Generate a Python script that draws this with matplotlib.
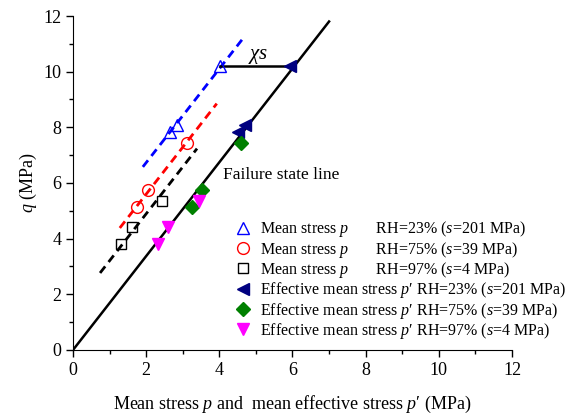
import numpy as np
import matplotlib
matplotlib.use('Agg')
import matplotlib.pyplot as plt
from matplotlib.lines import Line2D

plt.rcParams['font.family'] = ['Liberation Serif', 'DejaVu Serif']
plt.rcParams['mathtext.fontset'] = 'custom'
plt.rcParams['mathtext.rm'] = 'Liberation Serif'
plt.rcParams['mathtext.it'] = 'Liberation Serif:italic'

# mean stress p (open markers) and effective mean stress p' (filled markers)
p_rh23 = [2.65, 2.84, 4.02]
q_rh23 = [7.83, 8.08, 10.2]
pe_rh23 = [4.50, 4.70, 5.93]

p_rh75 = [1.75, 2.05, 3.11]
q_rh75 = [5.14, 5.75, 7.44]
pe_rh75 = [3.25, 3.52, 4.60]

p_rh97 = [1.31, 1.61, 2.43]
q_rh97 = [3.81, 4.42, 5.35]
pe_rh97 = [2.32, 2.60, 3.44]

# failure state line q = M p'
M = 1.686
fsl_p = [0.0, 7.0]

# dashed trend lines through p points (x range)
trend_23 = [1.91, 4.62]
trend_75 = [1.28, 3.93]
trend_97 = [0.74, 3.39]

fig = plt.figure(figsize=(5.82, 4.2), dpi=100)
ax = fig.add_axes([0.1254, 0.1667, 0.7543, 0.7952])

# failure line
ax.plot(fsl_p, [M * x for x in fsl_p], color='black', lw=1.8, zorder=2)

# dashed trend lines (slope from fit of each group)
for xs, ps, qs, c in [(trend_23, p_rh23, q_rh23, 'blue'),
                      (trend_75, p_rh75, q_rh75, 'red'),
                      (trend_97, p_rh97, q_rh97, 'black')]:
    b = np.mean(qs) - M * np.mean(ps)
    ax.plot(xs, [M * x + b for x in xs], ls=(0, (3, 2)), color=c, lw=2, zorder=2)

ms = 8.5
ax.plot(p_rh23, q_rh23, '^', mfc='none', mec='blue', ms=ms, mew=1, zorder=3)
ax.plot(p_rh75, q_rh75, 'o', mfc='none', mec='red', ms=ms, mew=1, zorder=3)
ax.plot(p_rh97, q_rh97, 's', mfc='none', mec='black', ms=7.5, mew=1, zorder=3)
ax.plot(pe_rh23, q_rh23, '<', color='#000080', ms=ms, zorder=3)
ax.plot(pe_rh75, q_rh75, 'D', color='#008000', ms=7, zorder=3)
ax.plot(pe_rh97, q_rh97, 'v', color='#FF00FF', ms=ms, zorder=3)

# chi*s line between p and p' at highest point
ax.plot([p_rh23[2], pe_rh23[2]], [q_rh23[2], q_rh23[2]], color='black', lw=1.8, zorder=2)
ax.text(5.05, 10.55, r'$\chi s$', fontsize=15, ha='center', va='center')
ax.text(4.1, 6.29, 'Failure state line', fontsize=12.5, ha='left', va='center')

ax.set_xlim(0, 12)
ax.set_ylim(0, 12)
ax.set_xticks(np.arange(0, 13, 2))
ax.set_yticks(np.arange(0, 13, 2))
ax.set_xticks(np.arange(0, 13, 1), minor=True)
ax.set_yticks(np.arange(0, 13, 1), minor=True)
ax.tick_params(which='major', direction='out', length=5, width=1, labelsize=13)
ax.tick_params(which='minor', direction='out', length=3, width=1)
ax.spines['top'].set_visible(False)
ax.spines['right'].set_visible(False)
ax.set_xlabel('Mean stress $p$ and  mean effective stress $p$\u2032 (MPa)', fontsize=13, labelpad=11)
ax.set_ylabel('$q$ (MPa)', fontsize=13, labelpad=3)

handles = [
    Line2D([], [], ls='none', marker='^', mfc='none', mec='blue', ms=ms),
    Line2D([], [], ls='none', marker='o', mfc='none', mec='red', ms=ms),
    Line2D([], [], ls='none', marker='s', mfc='none', mec='black', ms=7.5),
    Line2D([], [], ls='none', marker='<', color='#000080', ms=ms),
    Line2D([], [], ls='none', marker='D', color='#008000', ms=7),
    Line2D([], [], ls='none', marker='v', color='#FF00FF', ms=ms),
]
labels = [
    'Mean stress $p$       RH=23% ($s$=201 MPa)',
    'Mean stress $p$       RH=75% ($s$=39 MPa)',
    'Mean stress $p$       RH=97% ($s$=4 MPa)',
    'Effective mean stress $p$\u2032 RH=23% ($s$=201 MPa)',
    'Effective mean stress $p$\u2032 RH=75% ($s$=39 MPa)',
    'Effective mean stress $p$\u2032 RH=97% ($s$=4 MPa)',
]
ax.legend(handles, labels, loc='upper left', bbox_to_anchor=(0.35, 0.41),
          frameon=False, fontsize=11.5, handletextpad=0.5, labelspacing=0.02,
          handlelength=1.2, borderaxespad=0)

fig.savefig('out.png', dpi=100)
